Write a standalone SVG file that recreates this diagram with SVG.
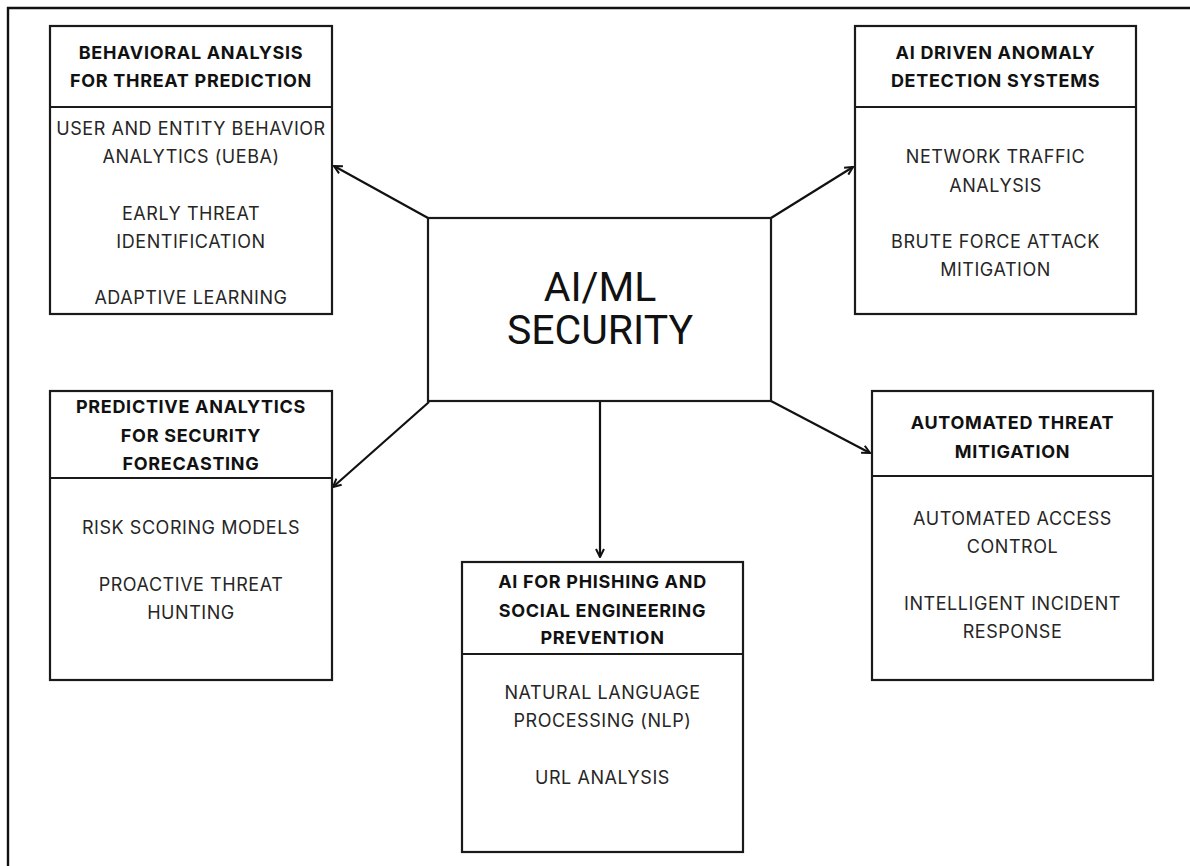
<svg xmlns="http://www.w3.org/2000/svg" width="1190" height="866" viewBox="0 0 1190 866">
  <style>
    .frame { fill: none; stroke: #111; stroke-width: 2.4; }
    .box { fill: #fff; stroke: #1a1a1a; stroke-width: 2.2; }
    .div { stroke: #1a1a1a; stroke-width: 2.2; }
    .hd { font-family: Inter, "Liberation Sans", sans-serif; font-weight: 700; font-size: 18px; letter-spacing: 0.7px; fill: #111; text-anchor: middle; }
    .bd { font-family: Inter, "Liberation Sans", sans-serif; font-weight: 400; font-size: 18px; letter-spacing: 0.55px; fill: #262626; text-anchor: middle; }
    .ctr { font-family: Roboto, "Liberation Sans", sans-serif; font-weight: 400; font-size: 41px; fill: #111; text-anchor: middle; }
    .link { fill: none; stroke: #111; stroke-width: 2.2; marker-end: url(#head); }
  </style>
  <defs>
    <marker id="head" viewBox="0 0 10 10" refX="9" refY="5" markerWidth="10" markerHeight="10" markerUnits="userSpaceOnUse" orient="auto">
      <path d="M1,1 L9,5 L1,9" fill="none" stroke="#111" stroke-width="2"/>
    </marker>
  </defs>
  <rect width="1190" height="866" fill="#fff"/>
  <path class="frame" d="M8,866 V8 H1190"/>

  <g id="connectors">
    <line class="link" x1="428" y1="218" x2="334" y2="166"/>
    <line class="link" x1="771" y1="218" x2="853" y2="167"/>
    <line class="link" x1="429" y1="402" x2="333" y2="487"/>
    <line class="link" x1="771" y1="401" x2="870" y2="453"/>
    <line class="link" x1="600" y1="401" x2="600" y2="557"/>
  </g>

  <g id="center">
    <rect class="box" x="428" y="218" width="343" height="183"/>
    <text class="ctr" x="600" y="301">AI/ML</text>
    <text class="ctr" x="600" y="344">SECURITY</text>
  </g>

  <g id="behavioral">
    <rect class="box" x="50" y="26" width="282" height="288"/>
    <line class="div" x1="50" y1="107" x2="332" y2="107"/>
    <text class="hd" x="191" y="59">BEHAVIORAL ANALYSIS</text>
    <text class="hd" x="191" y="87">FOR THREAT PREDICTION</text>
    <text class="bd" x="191" y="135">USER AND ENTITY BEHAVIOR</text>
    <text class="bd" x="191" y="163">ANALYTICS (UEBA)</text>
    <text class="bd" x="191" y="220">EARLY THREAT</text>
    <text class="bd" x="191" y="248">IDENTIFICATION</text>
    <text class="bd" x="191" y="304">ADAPTIVE LEARNING</text>
  </g>

  <g id="anomaly">
    <rect class="box" x="855" y="26" width="281" height="288"/>
    <line class="div" x1="855" y1="107" x2="1136" y2="107"/>
    <text class="hd" x="995.5" y="59">AI DRIVEN ANOMALY</text>
    <text class="hd" x="995.5" y="87">DETECTION SYSTEMS</text>
    <text class="bd" x="995.5" y="163">NETWORK TRAFFIC</text>
    <text class="bd" x="995.5" y="192">ANALYSIS</text>
    <text class="bd" x="995.5" y="248">BRUTE FORCE ATTACK</text>
    <text class="bd" x="995.5" y="276">MITIGATION</text>
  </g>

  <g id="predictive">
    <rect class="box" x="50" y="391" width="282" height="289"/>
    <line class="div" x1="50" y1="478" x2="332" y2="478"/>
    <text class="hd" x="191" y="413">PREDICTIVE ANALYTICS</text>
    <text class="hd" x="191" y="442">FOR SECURITY</text>
    <text class="hd" x="191" y="470">FORECASTING</text>
    <text class="bd" x="191" y="534">RISK SCORING MODELS</text>
    <text class="bd" x="191" y="591">PROACTIVE THREAT</text>
    <text class="bd" x="191" y="619">HUNTING</text>
  </g>

  <g id="mitigation">
    <rect class="box" x="872" y="391" width="281" height="289"/>
    <line class="div" x1="872" y1="476" x2="1153" y2="476"/>
    <text class="hd" x="1012.5" y="429">AUTOMATED THREAT</text>
    <text class="hd" x="1012.5" y="458">MITIGATION</text>
    <text class="bd" x="1012.5" y="525">AUTOMATED ACCESS</text>
    <text class="bd" x="1012.5" y="553">CONTROL</text>
    <text class="bd" x="1012.5" y="610">INTELLIGENT INCIDENT</text>
    <text class="bd" x="1012.5" y="638">RESPONSE</text>
  </g>

  <g id="phishing">
    <rect class="box" x="462" y="562" width="281" height="290"/>
    <line class="div" x1="462" y1="654" x2="743" y2="654"/>
    <text class="hd" x="602.5" y="588">AI FOR PHISHING AND</text>
    <text class="hd" x="602.5" y="617">SOCIAL ENGINEERING</text>
    <text class="hd" x="602.5" y="644">PREVENTION</text>
    <text class="bd" x="602.5" y="699">NATURAL LANGUAGE</text>
    <text class="bd" x="602.5" y="727">PROCESSING (NLP)</text>
    <text class="bd" x="602.5" y="784">URL ANALYSIS</text>
  </g>
</svg>
